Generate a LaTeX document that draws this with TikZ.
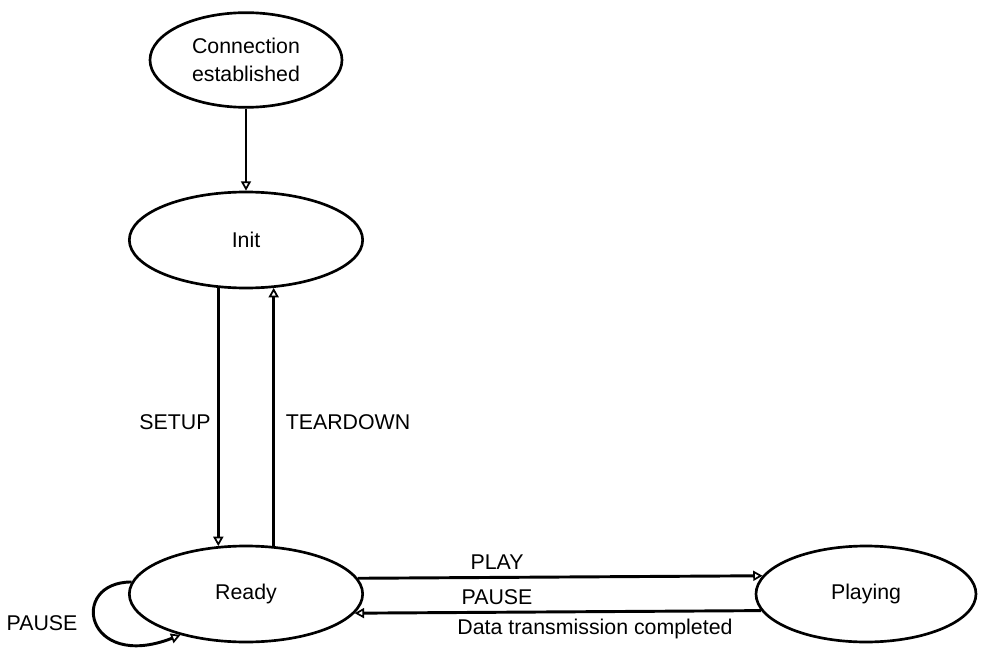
\documentclass[tikz,border=0pt]{standalone}
\usepackage{fontspec}
\setmainfont{Liberation Sans}
\usetikzlibrary{shapes.geometric,arrows.meta}
\begin{document}
\begin{tikzpicture}[x=0.75pt,y=-0.75pt,
  state/.style={draw,ellipse,line width=2pt,inner sep=0pt,align=center,
    font=\fontsize{16}{21}\selectfont},
  lbl/.style={font=\fontsize{16}{21}\selectfont,inner sep=0pt},
  arr/.style={line width=2.2pt,-{Triangle[open,length=7pt,width=7.5pt,line width=1.3pt]}}]
\useasboundingbox[fill=white] (0,0) rectangle (981,649);

% states
\node[state,minimum width=144pt,minimum height=71pt] (C) at (246,60) {Connection\\established};
\node[state,minimum width=175pt,minimum height=72pt] (I) at (246,240) {Init};
\node[state,minimum width=175pt,minimum height=72pt] (R) at (246,594) {Ready};
\node[state,minimum width=165pt,minimum height=72pt] (P) at (866,594) {Playing};

% transitions
\draw[arr] (C) -- (I);
\draw[arr] (I.240) -- (R.120);
\draw[arr] (R.60) -- (I.300);
\draw[arr] (R.8.83) -- (P.170.62);
\draw[arr] (P.189.9) -- (R.350.6);
\draw[arr] (R.174) .. controls (68,582) and (85,672) .. (R.212);

% labels
\node[lbl] (lsetup) at (175,422) {SETUP};
\node[lbl] (lteardown) at (348,422) {TEARDOWN};
\node[lbl] (lplay) at (497,562) {PLAY};
\node[lbl] (lpause) at (497,597) {PAUSE};
\node[lbl] (ldata) at (595,629) {Data transmission completed};
\node[lbl] (lloop) at (42,623) {PAUSE};
\end{tikzpicture}
\end{document}
